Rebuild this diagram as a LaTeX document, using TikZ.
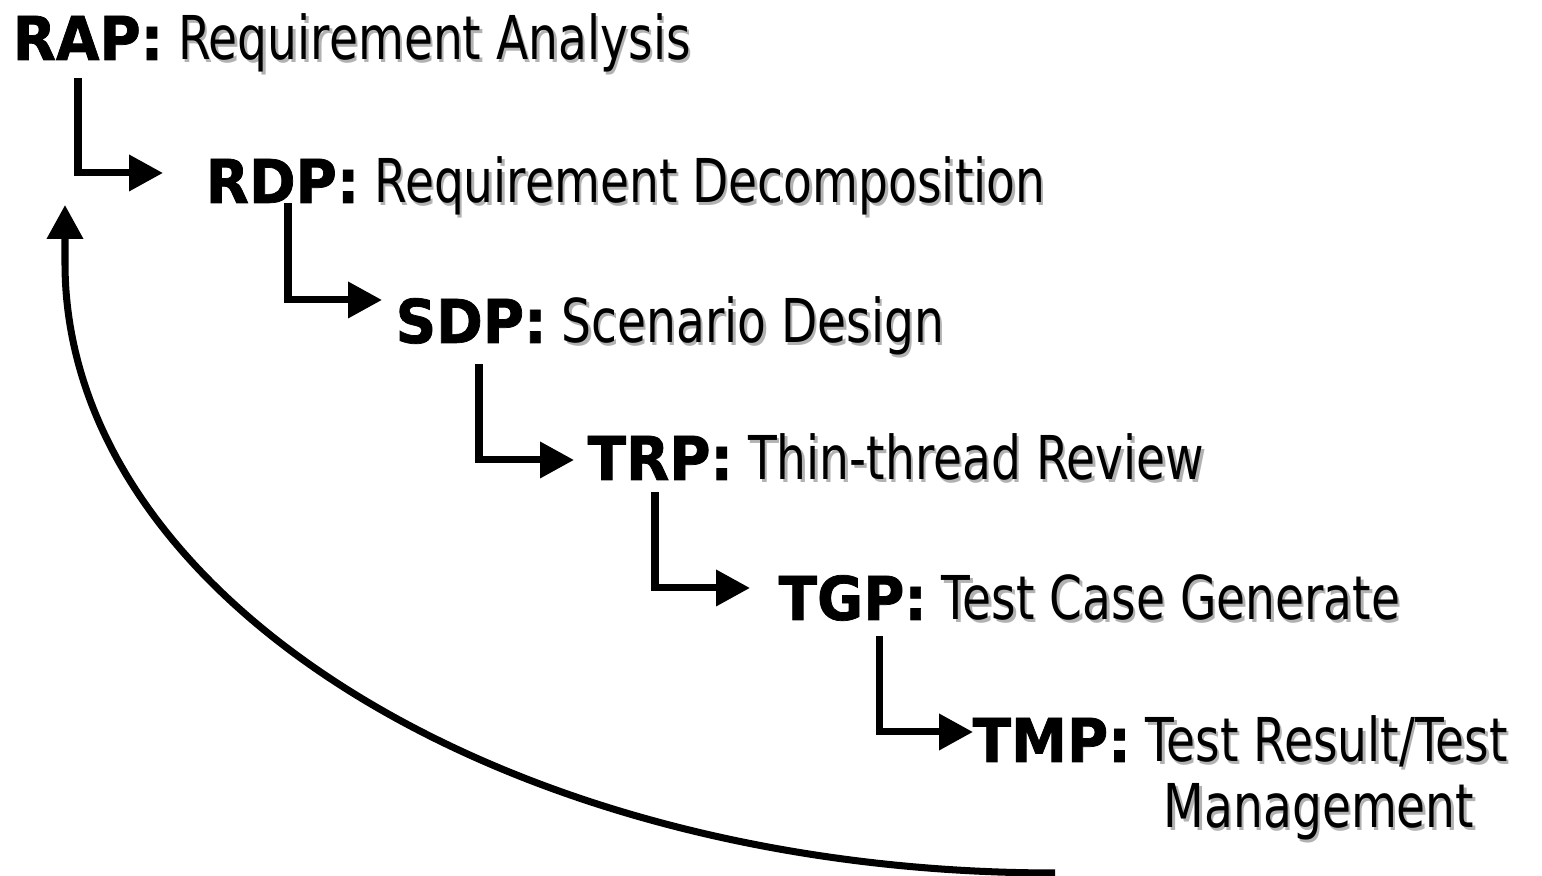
\documentclass[tikz,border=0pt]{standalone}
\usepackage{fontspec}
\setmainfont[FakeStretch=0.78]{DejaVu Sans}
\newfontfamily\tagfont[FakeStretch=0.93,FakeBold=1.2]{DejaVu Sans}
\usetikzlibrary{arrows.meta}
\newcommand{\shadowed}[1]{\makebox[0pt][l]{\hspace{0.7pt}\raisebox{-0.7pt}{\textcolor{black!30}{#1}}}#1}
\newcommand{\tagname}[1]{{\tagfont\bfseries #1}}
\tikzset{
    phase/.style={anchor=base west, inner sep=0pt, font=\fontsize{17.2}{20}\selectfont},
    link/.style={line width=2pt, -{Triangle[length=3.4mm,width=3.5mm]}}
}
\begin{document}
\begin{tikzpicture}
    \useasboundingbox (0,0) rectangle (15.42,8.76);

    \node[phase] (rap) at (0.12,8.16) {\tagname{RAP:} \shadowed{Requirement Analysis}};
    \node[phase] (rdp) at (2.05,6.73) {\tagname{RDP:} \shadowed{Requirement Decomposition}};
    \node[phase] (sdp) at (3.95,5.33) {\tagname{SDP:} \shadowed{Scenario Design}};
    \node[phase] (trp) at (5.87,3.96) {\tagname{TRP:} \shadowed{Thin-thread Review}};
    \node[phase] (tgp) at (7.78,2.56) {\tagname{TGP:} \shadowed{Test Case Generate}};
    \node[phase] (tmp) at (9.72,1.14) {\tagname{TMP:} \shadowed{Test Result/Test}};
    \node[phase] (mgmt) at (11.63,0.48) {\shadowed{Management}};

    \foreach \a/\b/\dx/\dy/\ex/\ey in {rap/rdp/0.66/-0.18/-0.42/0.30,
                                       rdp/sdp/0.83/0/-0.13/0.43,
                                       sdp/trp/0.84/-0.21/-0.13/0.20,
                                       trp/tgp/0.68/-0.12/-0.28/0.32,
                                       tgp/tmp/1.01/-0.16/0.01/0.30}
        {\draw[link] ([xshift=\dx cm,yshift=\dy cm]\a.base west) |- ([xshift=\ex cm,yshift=\ey cm]\b.base west);}

    % back to the start
    \coordinate (loopstart) at (10.55,0.03);
    \coordinate (looptip) at (0.65,6.71);
    \draw[link] (loopstart) arc[start angle=270, end angle=180, x radius=9.9, y radius=6.1] -- (looptip);
\end{tikzpicture}
\end{document}
